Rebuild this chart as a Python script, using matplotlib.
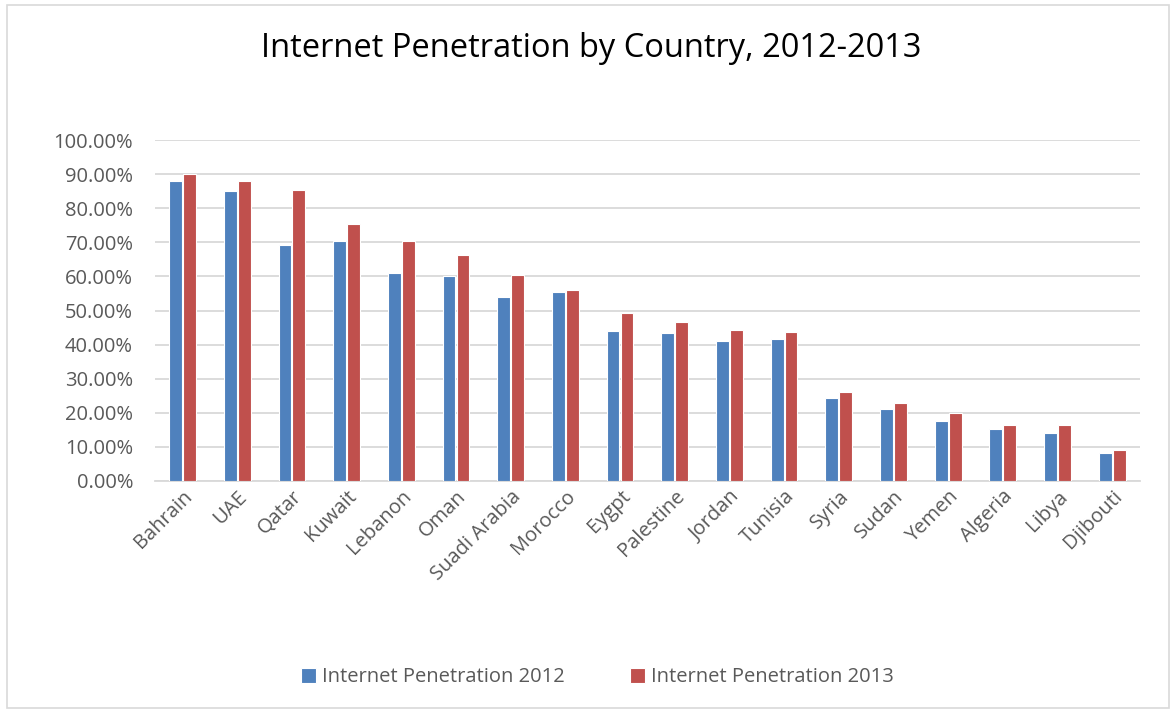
import matplotlib.pyplot as plt
import matplotlib.patches as patches
import numpy as np
from matplotlib.ticker import PercentFormatter

plt.rcParams['font.family'] = ['Open Sans', 'DejaVu Sans']

countries = ['Bahrain', 'UAE', 'Qatar', 'Kuwait', 'Lebanon', 'Oman', 'Suadi Arabia',
             'Morocco', 'Eygpt', 'Palestine', 'Jordan', 'Tunisia', 'Syria', 'Sudan',
             'Yemen', 'Algeria', 'Libya', 'Djibouti']
pen_2012 = [88.0, 85.0, 69.2, 70.4, 61.1, 60.0, 53.9, 55.4, 44.0, 43.4, 41.0, 41.5,
            24.3, 21.0, 17.5, 15.2, 14.0, 8.2]
pen_2013 = [90.0, 88.0, 85.2, 75.5, 70.4, 66.4, 60.4, 55.9, 49.4, 46.6, 44.2, 43.8,
            26.2, 22.8, 20.0, 16.4, 16.4, 9.0]

fig = plt.figure(figsize=(11.76, 7.13), dpi=100)
ax = fig.add_axes([0.132, 0.3254, 0.837, 0.4782])

# outer chart frame
fig.patches.append(patches.Rectangle((0.006, 0.007), 0.988, 0.986, transform=fig.transFigure,
                                     fill=False, edgecolor='#D9D9D9', linewidth=1.2))

x = np.arange(len(countries))
w = 0.235
ax.bar(x - w / 2 - 0.01, pen_2012, w, color='#4F81BD', edgecolor='white', linewidth=0.8,
       label='Internet Penetration 2012', zorder=3)
ax.bar(x + w / 2 + 0.01, pen_2013, w, color='#C0504D', edgecolor='white', linewidth=0.8,
       label='Internet Penetration 2013', zorder=3)

ax.set_xlim(-0.5, len(countries) - 0.5)
ax.set_ylim(0, 100)
ax.set_yticks(np.arange(0, 101, 10))
ax.yaxis.set_major_formatter(PercentFormatter(decimals=2))
ax.grid(axis='y', color='#D9D9D9', linewidth=1.3, zorder=0)
for s in ['top', 'right', 'left']:
    ax.spines[s].set_visible(False)
ax.spines['bottom'].set_color('#D9D9D9')
ax.spines['bottom'].set_linewidth(1.3)
ax.tick_params(length=0, labelsize=14.5, labelcolor='#595959')
ax.tick_params(axis='y', pad=16)
ax.tick_params(axis='x', pad=4)
ax.set_xticks(x)
ax.set_xticklabels(countries, rotation=45, ha='right', rotation_mode='anchor')

fig.text(0.503, 0.932, 'Internet Penetration by Country, 2012-2013', ha='center', va='center',
         fontsize=23.5, color='black')

fig.legend(loc='center', bbox_to_anchor=(0.508, 0.05), ncol=2, frameon=False, fontsize=14.5,
           handlelength=0.75, handleheight=0.75, columnspacing=3.2, labelcolor='#595959',
           handletextpad=0.3)

fig.savefig('out.png', dpi=100)
